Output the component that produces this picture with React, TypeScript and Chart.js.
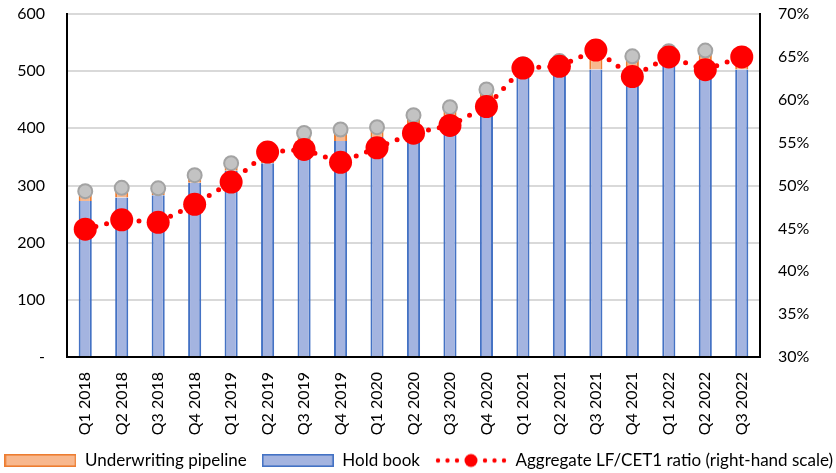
import React, { useEffect, useRef } from "react";
import { Chart, registerables } from "chart.js";

Chart.register(...registerables);

const categories = [
  "Q1 2018", "Q2 2018", "Q3 2018", "Q4 2018",
  "Q1 2019", "Q2 2019", "Q3 2019", "Q4 2019",
  "Q1 2020", "Q2 2020", "Q3 2020", "Q4 2020",
  "Q1 2021", "Q2 2021", "Q3 2021", "Q4 2021",
  "Q1 2022", "Q2 2022", "Q3 2022",
];

const holdBook = [273, 279, 283, 305, 326, 339, 377, 378, 385, 405, 418, 448, 495, 500, 503, 505, 518, 515, 503];
const pipeline = [17, 17, 12, 13, 13, 13, 15, 20, 17, 18, 19, 20, 17, 18, 34, 21, 17, 21, 22];
const ratioPct = [44.9, 46.0, 45.7, 47.8, 50.4, 53.9, 54.2, 52.7, 54.4, 56.1, 57.0, 59.2, 63.7, 63.9, 65.8, 62.7, 65.0, 63.5, 65.0];

const leftTicks = { min: 0, max: 600, step: 100 };
const rightTicks = { min: 30, max: 70, step: 5 };

const legendLabels = ["Underwriting pipeline", "Hold book", "Aggregate LF/CET1 ratio (right-hand scale)"];

const FONT = "Lato";

function makeBox(fill: string, stroke: string) {
  const c = document.createElement("canvas");
  c.width = 72;
  c.height = 13;
  const ctx = c.getContext("2d")!;
  ctx.fillStyle = fill;
  ctx.fillRect(1, 1, 70, 11);
  ctx.strokeStyle = stroke;
  ctx.lineWidth = 1.6;
  ctx.strokeRect(0.8, 0.8, 70.4, 11.4);
  return c;
}

function makeDotLine() {
  const c = document.createElement("canvas");
  c.width = 72;
  c.height = 16;
  const ctx = c.getContext("2d")!;
  ctx.fillStyle = "#ff0000";
  const xs = [3, 12.5, 22, 50, 59.5, 69];
  xs.forEach((x) => {
    ctx.beginPath();
    ctx.arc(x, 8, 2.2, 0, Math.PI * 2);
    ctx.fill();
  });
  ctx.beginPath();
  ctx.arc(36, 8, 6.5, 0, Math.PI * 2);
  ctx.fill();
  return c;
}

export default function App() {
  const ref = useRef<HTMLCanvasElement | null>(null);

  useEffect(() => {
    document.body.style.margin = "0";
    document.body.style.overflow = "hidden";
    const canvas = ref.current;
    if (!canvas) return;
    const totals = holdBook.map((v, i) => v + pipeline[i]);
    const orangeImg = makeBox("#f8b88e", "#ed7d31");
    const blueImg = makeBox("#a4b4e0", "#4472c4");
    const lineImg = makeDotLine();

    const chart = new Chart(canvas, {
      type: "bar",
      data: {
        labels: categories,
        datasets: [
          {
            type: "line",
            label: legendLabels[2],
            data: ratioPct,
            yAxisID: "y1",
            borderColor: "#ff0000",
            borderWidth: 5,
            borderDash: [0, 11],
            borderCapStyle: "round",
            pointRadius: 11.5,
            pointBackgroundColor: "#ff0000",
            pointBorderWidth: 0,
            fill: false,
            tension: 0,
            order: 0,
          },
          {
            type: "line",
            label: "Total",
            data: totals,
            yAxisID: "y",
            stack: "total",
            showLine: false,
            pointRadius: 7,
            pointBackgroundColor: "#c3c3c3",
            pointBorderColor: "#a3a3a3",
            pointBorderWidth: 2,
            order: 1,
          },
          {
            type: "bar",
            label: legendLabels[1],
            data: holdBook,
            yAxisID: "y",
            stack: "bars",
            backgroundColor: "#a4b4e0",
            borderColor: "#4472c4",
            borderWidth: { left: 2, right: 2, top: 0, bottom: 0 },
            borderSkipped: false,
            categoryPercentage: 1,
            barPercentage: 0.36,
            order: 2,
          },
          {
            type: "bar",
            label: legendLabels[0],
            data: pipeline,
            yAxisID: "y",
            stack: "bars",
            backgroundColor: "#f8b88e",
            borderColor: "#ed7d31",
            borderWidth: { left: 2, right: 2, top: 2, bottom: 0 },
            borderSkipped: false,
            categoryPercentage: 1,
            barPercentage: 0.36,
            order: 3,
          },
        ],
      },
      options: {
        responsive: false,
        animation: false,
        devicePixelRatio: 1,
        layout: { padding: { top: 14, left: -22, right: -23.5, bottom: -6 } },
        plugins: {
          tooltip: { enabled: false },
          legend: {
            position: "bottom",
            labels: {
              usePointStyle: true,
              pointStyleWidth: 72,
              padding: 15,
              color: "#000",
              font: { family: FONT, size: 17 },
              generateLabels: () => [
                { text: legendLabels[0], pointStyle: orangeImg, fillStyle: "#f8b88e", strokeStyle: "#ed7d31", lineWidth: 0, hidden: false, datasetIndex: 3 },
                { text: legendLabels[1], pointStyle: blueImg, fillStyle: "#a4b4e0", strokeStyle: "#4472c4", lineWidth: 0, hidden: false, datasetIndex: 2 },
                { text: legendLabels[2], pointStyle: lineImg, fillStyle: "#ff0000", strokeStyle: "#ff0000", lineWidth: 0, hidden: false, datasetIndex: 0 },
              ] as any,
            },
          },
        },
        scales: {
          x: {
            stacked: true,
            grid: { display: false, drawTicks: false },
            border: { display: true, color: "#000", width: 2 },
            ticks: {
              color: "#000",
              font: { family: FONT, size: 16 },
              maxRotation: 90,
              minRotation: 90,
              padding: 15,
              autoSkip: false,
            },
            afterFit: (s: any) => {
              s.height = 80;
            },
          },
          y: {
            stacked: true,
            position: "left",
            min: leftTicks.min,
            max: leftTicks.max,
            grid: { color: "#d9d9d9", lineWidth: 2, drawTicks: true, tickLength: 22, tickColor: "rgba(0,0,0,0)" },
            border: { display: true, color: "#000", width: 2 },
            ticks: {
              stepSize: leftTicks.step,
              color: "#000",
              font: { family: FONT, size: 16 },
              padding: 0,
              callback: (v: any) => (Number(v) === 0 ? "-" : String(v)),
            },
            afterFit: (s: any) => {
              s.width = 89;
            },
          },
          y1: {
            position: "right",
            min: rightTicks.min,
            max: rightTicks.max,
            grid: { display: true, drawOnChartArea: false, drawTicks: true, tickLength: 18, tickColor: "rgba(0,0,0,0)" },
            border: { display: true, color: "#000", width: 2 },
            ticks: {
              stepSize: rightTicks.step,
              color: "#000",
              font: { family: FONT, size: 16 },
              padding: 0,
              callback: (v: any) => `${v}%`,
            },
            afterFit: (s: any) => {
              s.width = 99.5;
            },
          },
        },
      },
    });
    return () => chart.destroy();
  }, []);

  return (
    <div style={{ width: 836, height: 473 }}>
      <canvas ref={ref} width={836} height={473} />
    </div>
  );
}
